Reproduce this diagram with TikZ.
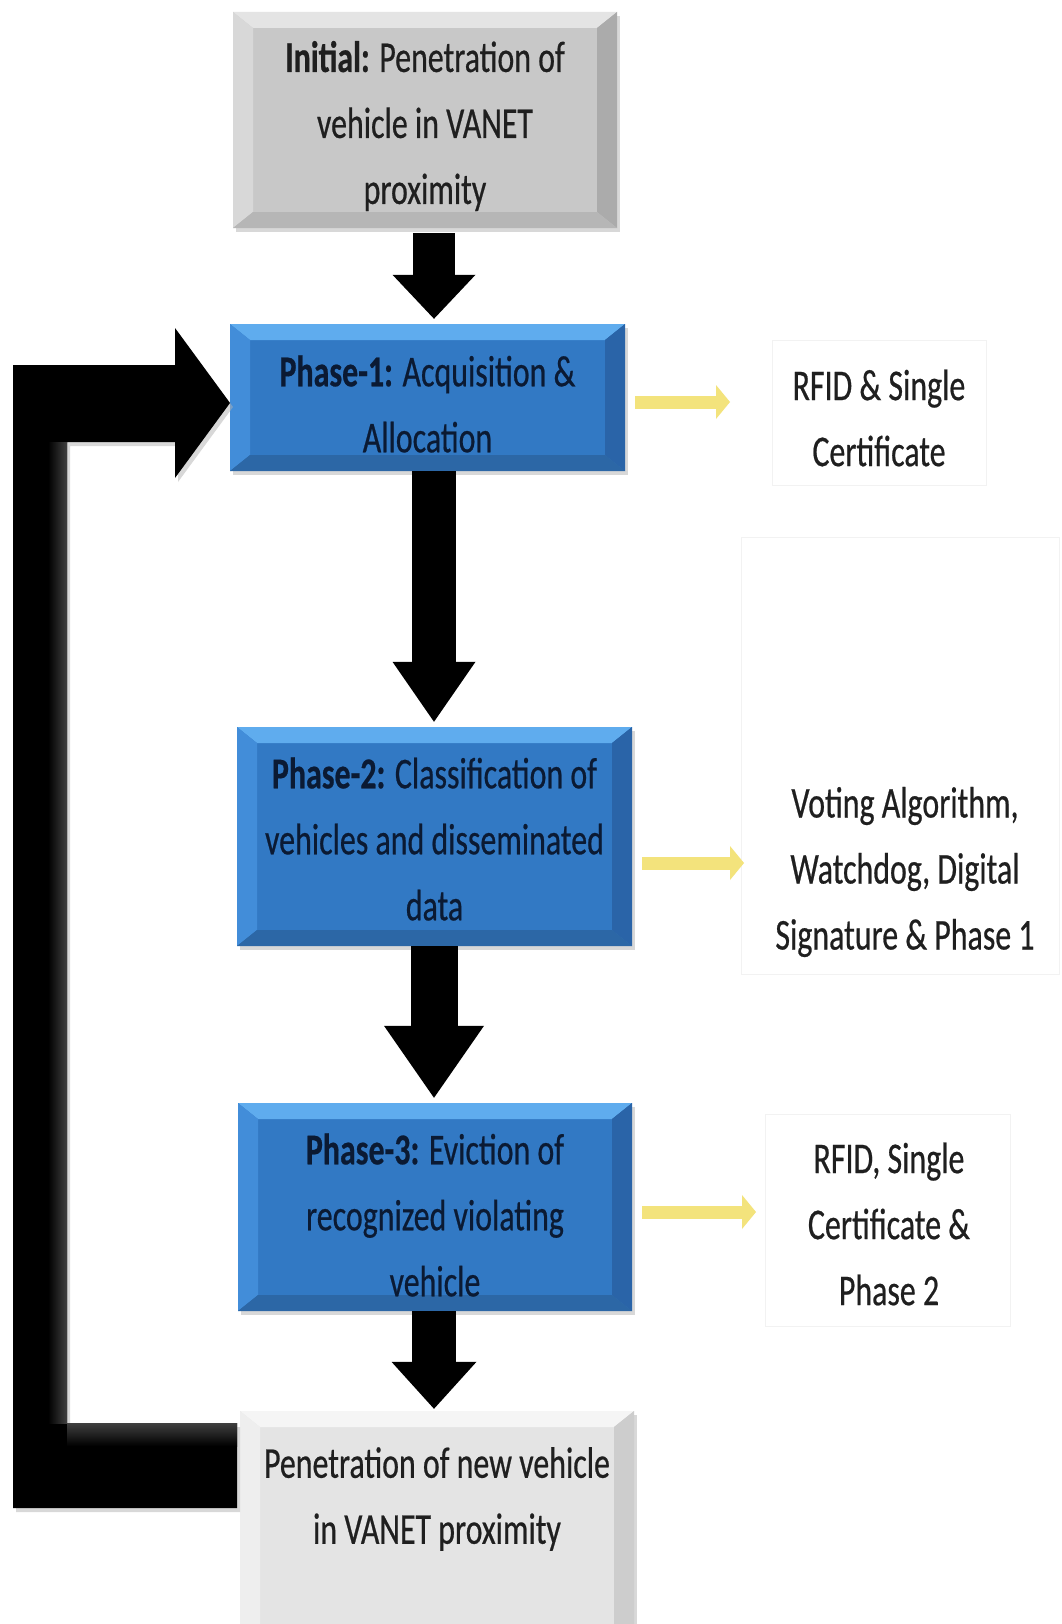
\documentclass[tikz,border=0pt]{standalone}
\usepackage{fontspec}
\setmainfont{Carlito}[FakeStretch=0.725, UprightFeatures={FakeBold=0.5}, BoldFeatures={FakeBold=0.5}]
\usetikzlibrary{arrows.meta,calc,shadows}
\definecolor{gface}{HTML}{C8C8C8}\definecolor{gtop}{HTML}{E4E4E4}\definecolor{gleft}{HTML}{D8D8D8}\definecolor{gright}{HTML}{ABABAB}\definecolor{gbot}{HTML}{B6B6B6}
\definecolor{bface}{HTML}{3279C4}\definecolor{btop}{HTML}{5FACEE}\definecolor{bleft}{HTML}{428DD9}\definecolor{bright}{HTML}{2A64A8}\definecolor{bbot}{HTML}{2C67A6}
\definecolor{lface}{HTML}{E4E4E4}\definecolor{ltop}{HTML}{F5F5F5}\definecolor{lleft}{HTML}{EEEEEE}\definecolor{lright}{HTML}{CDCDCD}\definecolor{lbot}{HTML}{D2D2D2}
\definecolor{yfill}{HTML}{F3E37C}
\definecolor{yedge}{HTML}{D6C55C}
\definecolor{navytxt}{HTML}{0B1A33}
\begin{document}
\begin{tikzpicture}[x=1pt,y=-1pt,
  txt/.style={font=\fontsize{44}{66}\selectfont, align=center, inner sep=0pt, text=black!88},
  bevel/.style n args={5}{fill=#1, inner sep=0pt,
    drop shadow={opacity=0.3, shadow xshift=3pt, shadow yshift=-4pt},
    path picture={
      \fill[#2] (path picture bounding box.north west) -- (path picture bounding box.north east)
        -- ([xshift=-20pt,yshift=-16pt]path picture bounding box.north east)
        -- ([xshift=20pt,yshift=-16pt]path picture bounding box.north west) -- cycle;
      \fill[#3] (path picture bounding box.north west) -- ([xshift=20pt,yshift=-16pt]path picture bounding box.north west)
        -- ([xshift=20pt,yshift=16pt]path picture bounding box.south west) -- (path picture bounding box.south west) -- cycle;
      \fill[#4] (path picture bounding box.north east) -- ([xshift=-20pt,yshift=-16pt]path picture bounding box.north east)
        -- ([xshift=-20pt,yshift=16pt]path picture bounding box.south east) -- (path picture bounding box.south east) -- cycle;
      \fill[#5] (path picture bounding box.south west) -- ([xshift=20pt,yshift=16pt]path picture bounding box.south west)
        -- ([xshift=-20pt,yshift=16pt]path picture bounding box.south east) -- (path picture bounding box.south east) -- cycle;
    }},
  graybox/.style={bevel={gface}{gtop}{gleft}{gright}{gbot}},
  bluebox/.style={bevel={bface}{btop}{bleft}{bright}{bbot}},
  lightbox/.style={bevel={lface}{ltop}{lleft}{lright}{lbot}},
  faint/.style={draw=black!5, line width=1pt, inner sep=0pt},
  blk/.style n args={3}{draw=black, line width=#1, -{Triangle[width=#2, length=#3, line width=0pt]}},
  yarr/.style={draw=yfill, line width=13pt, -{Triangle[width=34pt, length=14pt, line width=0pt]}, shorten <=10pt}
]
\clip (0,0) rectangle (1061,1624);
\fill[white] (0,0) rectangle (1061,1624);

% column for the vertical arrows
\coordinate (col) at (434,0);

% boxes
\node[graybox, minimum width=384pt, minimum height=216pt] (init) at (425,120) {};
\node[bluebox, minimum width=395pt, minimum height=147pt] (p1) at (427.5,397.5) {};
\node[bluebox, minimum width=395pt, minimum height=219pt] (p2) at (434.5,836.5) {};
\node[bluebox, minimum width=394pt, minimum height=208pt] (p3) at (435,1207) {};
\node[lightbox, minimum width=394pt, minimum height=240pt] (newv) at (437,1531) {};

% box texts
\node[txt] (initt) at (425,126) {\textbf{Initial:} Penetration of\\vehicle in VANET\\proximity};
\node[txt, text=navytxt] (p1t) at (427.5,404) {\textbf{Phase-1:} Acquisition \&\\Allocation};
\node[txt, text=navytxt] (p2t) at (434.5,839) {\textbf{Phase-2:} Classification of\\vehicles and disseminated\\data};
\node[txt, text=navytxt] (p3t) at (435,1215) {\textbf{Phase-3:} Eviction of\\recognized violating\\vehicle};
\node[txt] (newvt) at (437,1499) {Penetration of new vehicle\\in VANET proximity};

% right-hand notes
\node[faint, minimum width=214pt, minimum height=145pt] (f1) at (879,412.5) {};
\node[faint, minimum width=318pt, minimum height=437pt] (f2) at (900,755.5) {};
\node[faint, minimum width=245pt, minimum height=212pt] (f3) at (887.5,1220) {};
\node[txt] (n1) at (879,418) {RFID \& Single\\Certificate};
\node[txt] (n2) at (905,872) {Voting Algorithm,\\Watchdog, Digital\\Signature \& Phase 1};
\node[txt] (n3) at (889,1224) {RFID, Single\\Certificate \&\\Phase 2};

% yellow arrows
\coordinate (y1e) at (730,402);
\coordinate (y2e) at (744,863);
\coordinate (y3e) at (756,1212);
\draw[yarr] (p1.east |- y1e) -- (y1e);
\draw[yarr] (p2.east |- y2e) -- (y2e);
\draw[yarr] (p3.east |- y3e) -- (y3e);

% black down arrows
\draw[blk={42pt}{83pt}{44pt}, shorten <=5pt, shorten >=5pt] (init.south -| col) -- (p1.north -| col);
\draw[blk={44pt}{83pt}{60pt}, shorten >=5pt] (p1.south -| col) -- (p2.north -| col);
\draw[blk={47pt}{100pt}{72pt}, shorten >=5pt] (p2.south -| col) -- (p3.north -| col);
\draw[blk={44pt}{85pt}{47pt}, shorten >=2pt] (p3.south -| col) -- (newv.north -| col);

% feedback arrow from new-vehicle box back to Phase-1
\fill[black!30, opacity=0.5] (240,1427) -- (70,1427) -- (70,446) -- (178,446) -- (178,482) -- (233,407) -- (178,332) -- (178,369) -- (16,369) -- (16,1512) -- (240,1512) -- cycle;
\fill[black] (237,1423) -- (67,1423) -- (67,442) -- (175,442) -- (175,478) -- (230,403) -- (175,328) -- (175,365) -- (13,365) -- (13,1508) -- (237,1508) -- cycle;
\shade[left color=black, right color=black!75] (48,442) rectangle (67,1423);
\shade[top color=black!75, bottom color=black] (67,1423) rectangle (237,1446);
\end{tikzpicture}
\end{document}
